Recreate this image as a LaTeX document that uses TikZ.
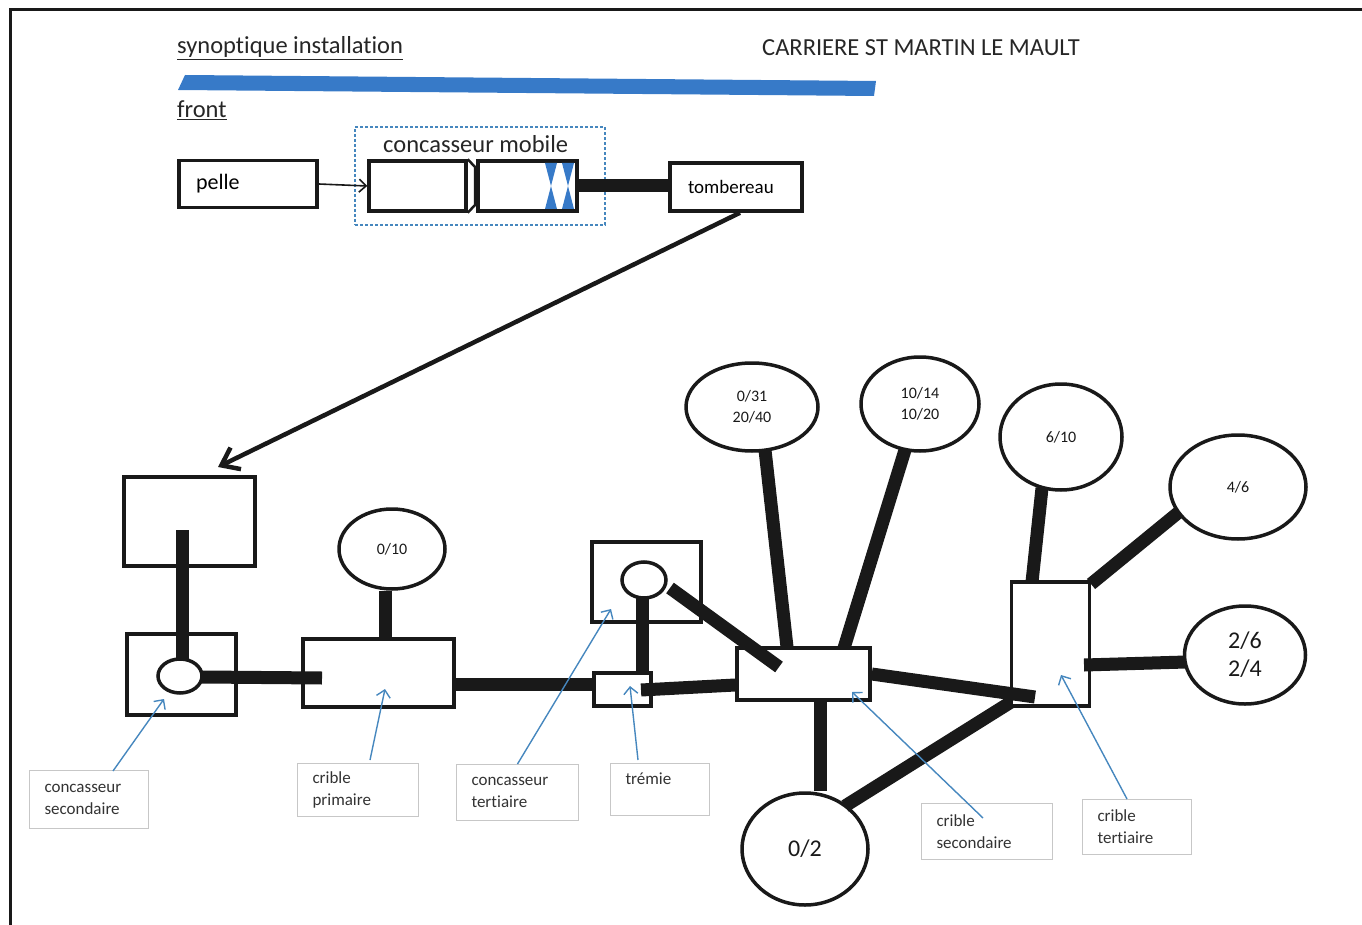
\documentclass[tikz,border=0pt]{standalone}
\usepackage{fontspec}
\setmainfont{Carlito}[Ligatures=CommonOff]
\usetikzlibrary{shapes.geometric,arrows.meta,calc}
\definecolor{bluebar}{RGB}{55,122,200}
\definecolor{ptr}{RGB}{70,135,190}
\definecolor{ink}{RGB}{25,25,25}
\begin{document}
\begin{tikzpicture}[x=1pt,y=-1pt,
  box/.style={draw=ink, line width=3.5pt, inner sep=0pt},
  pool/.style={draw=ink, ellipse, line width=3.5pt, inner sep=0pt, align=center, font=\fontsize{16}{21}\selectfont, text=ink},
  bigpool/.style={pool, font=\fontsize{24}{28}\selectfont},
  bar/.style={draw=ink, line width=13pt},
  lbl/.style={draw=black!22, line width=1pt, anchor=north west, align=left, inner xsep=15pt, inner ysep=0pt, font=\fontsize{17}{22}\selectfont, text=black!80},
  pointer/.style={draw=ptr, line width=1.4pt, -{Straight Barb[length=7pt,width=14pt]}},
  heading/.style={anchor=west, inner sep=0pt, font=\fontsize{24.5}{28}\selectfont, text=black!85},
]
\useasboundingbox (0,0) rectangle (1362,925);
% frame
\draw[line width=3pt, ink] (1362,10) -- (10,10) -- (10,925);

% headings
\node[heading] (title) at (177,48) {\underline{synoptique installation}};
\node[heading] (site) at (762,48) {CARRIERE ST MARTIN LE MAULT};
\fill[bluebar] (185,75) -- (876,81) -- (874,96) -- (178,90) -- cycle;
\node[heading] (front) at (177,110) {\underline{front}};

% top chain
\node[box, minimum width=138, minimum height=47, text width=104, inner xsep=17pt, align=left,
      font=\fontsize{22}{26}\selectfont] (pelle) at (248,184) {pelle};
\node[draw=ptr, dashed, dash pattern=on 3pt off 2pt, line width=1.3pt, minimum width=250, minimum height=98] (mobile) at (480,176) {};
\node[heading] (mobtext) at (383,144) {concasseur mobile};
\node[box, minimum width=97, minimum height=50] (feeder) at (417.5,186) {};
\node[box, minimum width=99, minimum height=50] (jaw) at (527.5,186) {};
\draw[ink, line width=2.5pt] (feeder.north east) -- (475,167) -- (475,205) -- (feeder.south east);
\fill[bluebar] (545,163) -- (557,163) -- (551,186) -- cycle;
\fill[bluebar] (545,209) -- (557,209) -- (551,186) -- cycle;
\fill[bluebar] (562,163) -- (574,163) -- (568,186) -- cycle;
\fill[bluebar] (562,209) -- (574,209) -- (568,186) -- cycle;
\node[box, minimum width=132, minimum height=48, text width=96, inner xsep=18pt, align=left,
      font=\fontsize{19}{23}\selectfont] (tomb) at (736,187) {tombereau};
\draw[ink, line width=1.6pt, -{Straight Barb[length=7pt,width=13pt]}] (pelle.east) -- (feeder.west);
\draw[bar] (jaw.east) -- (tomb.west |- jaw.east);

% transport arrow
\coordinate (dropA) at (218,467);
\draw[ink, line width=4.5pt, -{Straight Barb[length=16pt,width=24pt]}] ($(tomb.south)+(4,0)$) -- (dropA);

% plant boxes
\node[box, minimum width=131, minimum height=89] (hopper) at (189.5,521.5) {};
\node[box, minimum width=109, minimum height=81] (crushB) at (181.5,674.5) {};
\node[box, minimum width=151, minimum height=68] (screenC) at (378.5,673) {};
\node[box, minimum width=109, minimum height=80] (crushE) at (646.5,582) {};
\node[box, minimum width=57, minimum height=33] (tremie) at (622.5,689.5) {};
\node[box, minimum width=133, minimum height=52] (screenF) at (803.5,674) {};
\node[box, minimum width=78, minimum height=124] (screenG) at (1050.5,644) {};

% stockpiles
\node[pool, minimum width=106, minimum height=80] (p010) at (392,549) {0/10};
\node[pool, minimum width=132, minimum height=88] (p031) at (752,407) {0/31\\20/40};
\node[pool, minimum width=118, minimum height=94] (p1014) at (920,404) {10/14\\10/20};
\node[pool, minimum width=122, minimum height=106] (p610) at (1061,437) {6/10};
\node[pool, minimum width=136, minimum height=104] (p46) at (1238,487) {4/6};
\node[bigpool, minimum width=121, minimum height=98] (p26) at (1245,655) {2/6\\2/4};
\node[bigpool, minimum width=126, minimum height=112] (p02) at (805,849) {0/2};

% bars
\coordinate (inA) at (182,530);
\coordinate (inC) at (322,678);
\coordinate (inT) at (641,690);
\coordinate (inF) at (779,667);
\coordinate (inG) at (1035,697);
\coordinate (cornerG) at (1011,702);
\draw[bar] (inA) -- (182,659);
\draw[bar] (202,677) -- (inC);
\draw[bar] ($(p010.south)+(-7,0)$) -- ($(screenC.north)+(6.5,0)$);
\draw[bar] (screenC.east |- 0,684) -- (tremie.west |- 0,684);
\draw[bar] (642,597) -- (tremie.north -| 642,0);
\draw[bar] (inT) -- (screenF.west |- 0,685);
\draw[bar] (670,588) -- (inF);
\draw[bar] (765,450) -- (787,647);
\draw[bar] (905,450) -- (844,648);
\draw[bar] (820,700) -- (p02.north -| 820,0);
\draw[bar] (845,806) -- (cornerG);
\draw[bar] (screenF.east |- 0,674) -- (inG);
\draw[bar] (1042,488) -- (1032,582);
\draw[bar] (1091,584) -- (1179,512);
\draw[bar] (1084,665) -- (1186,662);

% small crusher ellipses on top of bars
\node[draw=ink, ellipse, line width=3.5pt, fill=white, minimum width=44, minimum height=34] (eB) at (180,676) {};
\node[draw=ink, ellipse, line width=3.5pt, fill=white, minimum width=44, minimum height=36] (eE) at (644,580) {};

% labels
\node[lbl, minimum width=119, minimum height=58, text width=89] (lB) at (29,770) {concasseur\\secondaire};
\node[lbl, minimum width=121, minimum height=53, text width=91] (lC) at (297,763) {crible\\primaire};
\node[lbl, minimum width=122, minimum height=56, text width=92] (lE) at (456,764) {concasseur\\tertiaire};
\node[lbl, minimum width=99, minimum height=52, text width=69] (lT) at (610,763) {trémie\\ \mbox{}};
\node[lbl, minimum width=131, minimum height=56, text width=101] (lF) at (921,803) {crible\\secondaire};
\node[lbl, minimum width=109, minimum height=55, text width=79] (lG) at (1082,799) {crible\\tertiaire};

% pointers
\coordinate (tB) at (164,699);
\coordinate (tC) at (385,689);
\coordinate (tE) at (611,609);
\coordinate (tT) at (630,686);
\coordinate (tF) at (852,692);
\coordinate (tG) at (1061,675);
\draw[pointer] (lB.north west) ++(84,1) -- (tB);
\draw[pointer] (370,760) -- (tC);
\draw[pointer] (lE.north) -- (tE);
\draw[pointer] (638,760) -- (tT);
\draw[pointer] (983,818) -- (tF);
\draw[pointer] (lG.north) ++(-10,0) -- (tG);
\end{tikzpicture}
\end{document}
